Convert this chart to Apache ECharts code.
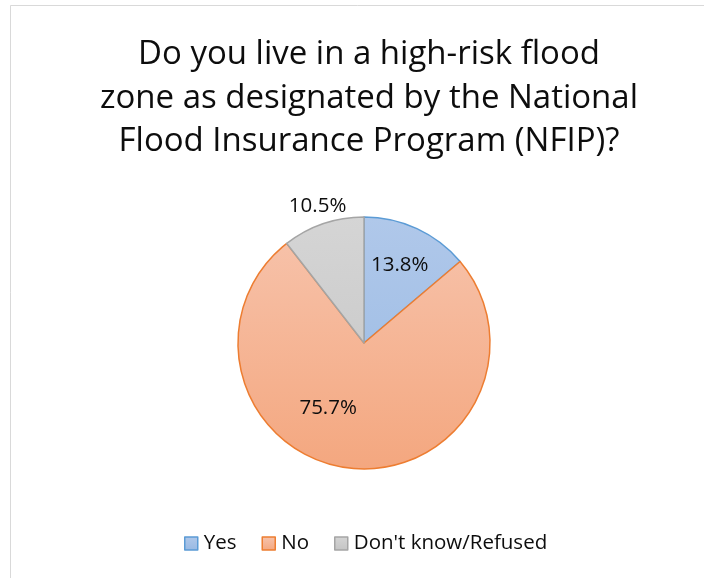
<!DOCTYPE html>
<html><head><meta charset="utf-8">
<script src="https://cdn.jsdelivr.net/npm/echarts@6/dist/echarts.min.js"></script>
<style>html,body{margin:0;padding:0;background:#fff}#c{width:704px;height:578px}</style>
</head><body><div id="c"></div>
<script>
const titleLines = ['Do you live in a high-risk flood', 'zone as designated by the National', 'Flood Insurance Program (NFIP)?'];
const categories = ['Yes', 'No', "Don't know/Refused"];
const values = [13.8, 75.7, 10.5];
const labelTexts = ['13.8%', '75.7%', '10.5%'];

const FONT = 'Open Sans';
const cx = 364, cy = 343, R = 126;
const fills = [
  ['#b0c8ea', '#98b9e3'],
  ['#f7c4ad', '#f4a77f'],
  ['#d5d5d5', '#c4c4c4']
];
const borders = ['#5b9bd5', '#ed7d31', '#a5a5a5'];
const offsets = [[8, -18], [-29, 0], [-25, -74]];

function grad(i) {
  return {type: 'linear', x: 0, y: cy - R, x2: 0, y2: cy + R, global: true,
    colorStops: [{offset: 0, color: fills[i][0]}, {offset: 1, color: fills[i][1]}]};
}
function legendGrad(i) {
  return {type: 'linear', x: 0, y: 0, x2: 0, y2: 1,
    colorStops: [{offset: 0, color: fills[i][0]}, {offset: 1, color: fills[i][1]}]};
}

const chart = echarts.init(document.getElementById('c'), null, {renderer: 'canvas'});
chart.setOption({
  animation: false,
  backgroundColor: '#fff',
  graphic: [{type: 'rect', shape: {x: 10.5, y: 5.5, width: 720, height: 600},
    style: {fill: 'none', stroke: '#d9d9d9', lineWidth: 1}, silent: true}],
  title: {
    text: titleLines.join('\n'), left: 364, textAlign: 'center', top: 28,
    textStyle: {fontFamily: FONT, fontSize: 33, fontWeight: 'normal', color: '#0d0d0d', lineHeight: 43.5}
  },
  legend: {
    bottom: 19, left: 179, itemWidth: 13, itemHeight: 13, itemGap: 25,
    icon: 'rect',
    textStyle: {fontFamily: FONT, fontSize: 20.5, color: '#0d0d0d', padding: [0, 0, 0, 1]},
    data: categories.map((c, i) => ({name: c, itemStyle: {color: legendGrad(i), borderColor: borders[i], borderWidth: 1.5}}))
  },
  series: [{
    type: 'pie', center: [cx, cy], radius: R, startAngle: 90, clockwise: true,
    label: {show: true, position: 'inside', fontFamily: FONT, fontSize: 20.5, color: '#0d0d0d',
      formatter: p => labelTexts[p.dataIndex]},
    labelLine: {show: false},
    emphasis: {disabled: true},
    data: categories.map((c, i) => ({
      name: c, value: values[i],
      itemStyle: {color: grad(i), borderColor: borders[i], borderWidth: 1.5},
      label: {offset: offsets[i]}
    }))
  }]
});
</script></body></html>
